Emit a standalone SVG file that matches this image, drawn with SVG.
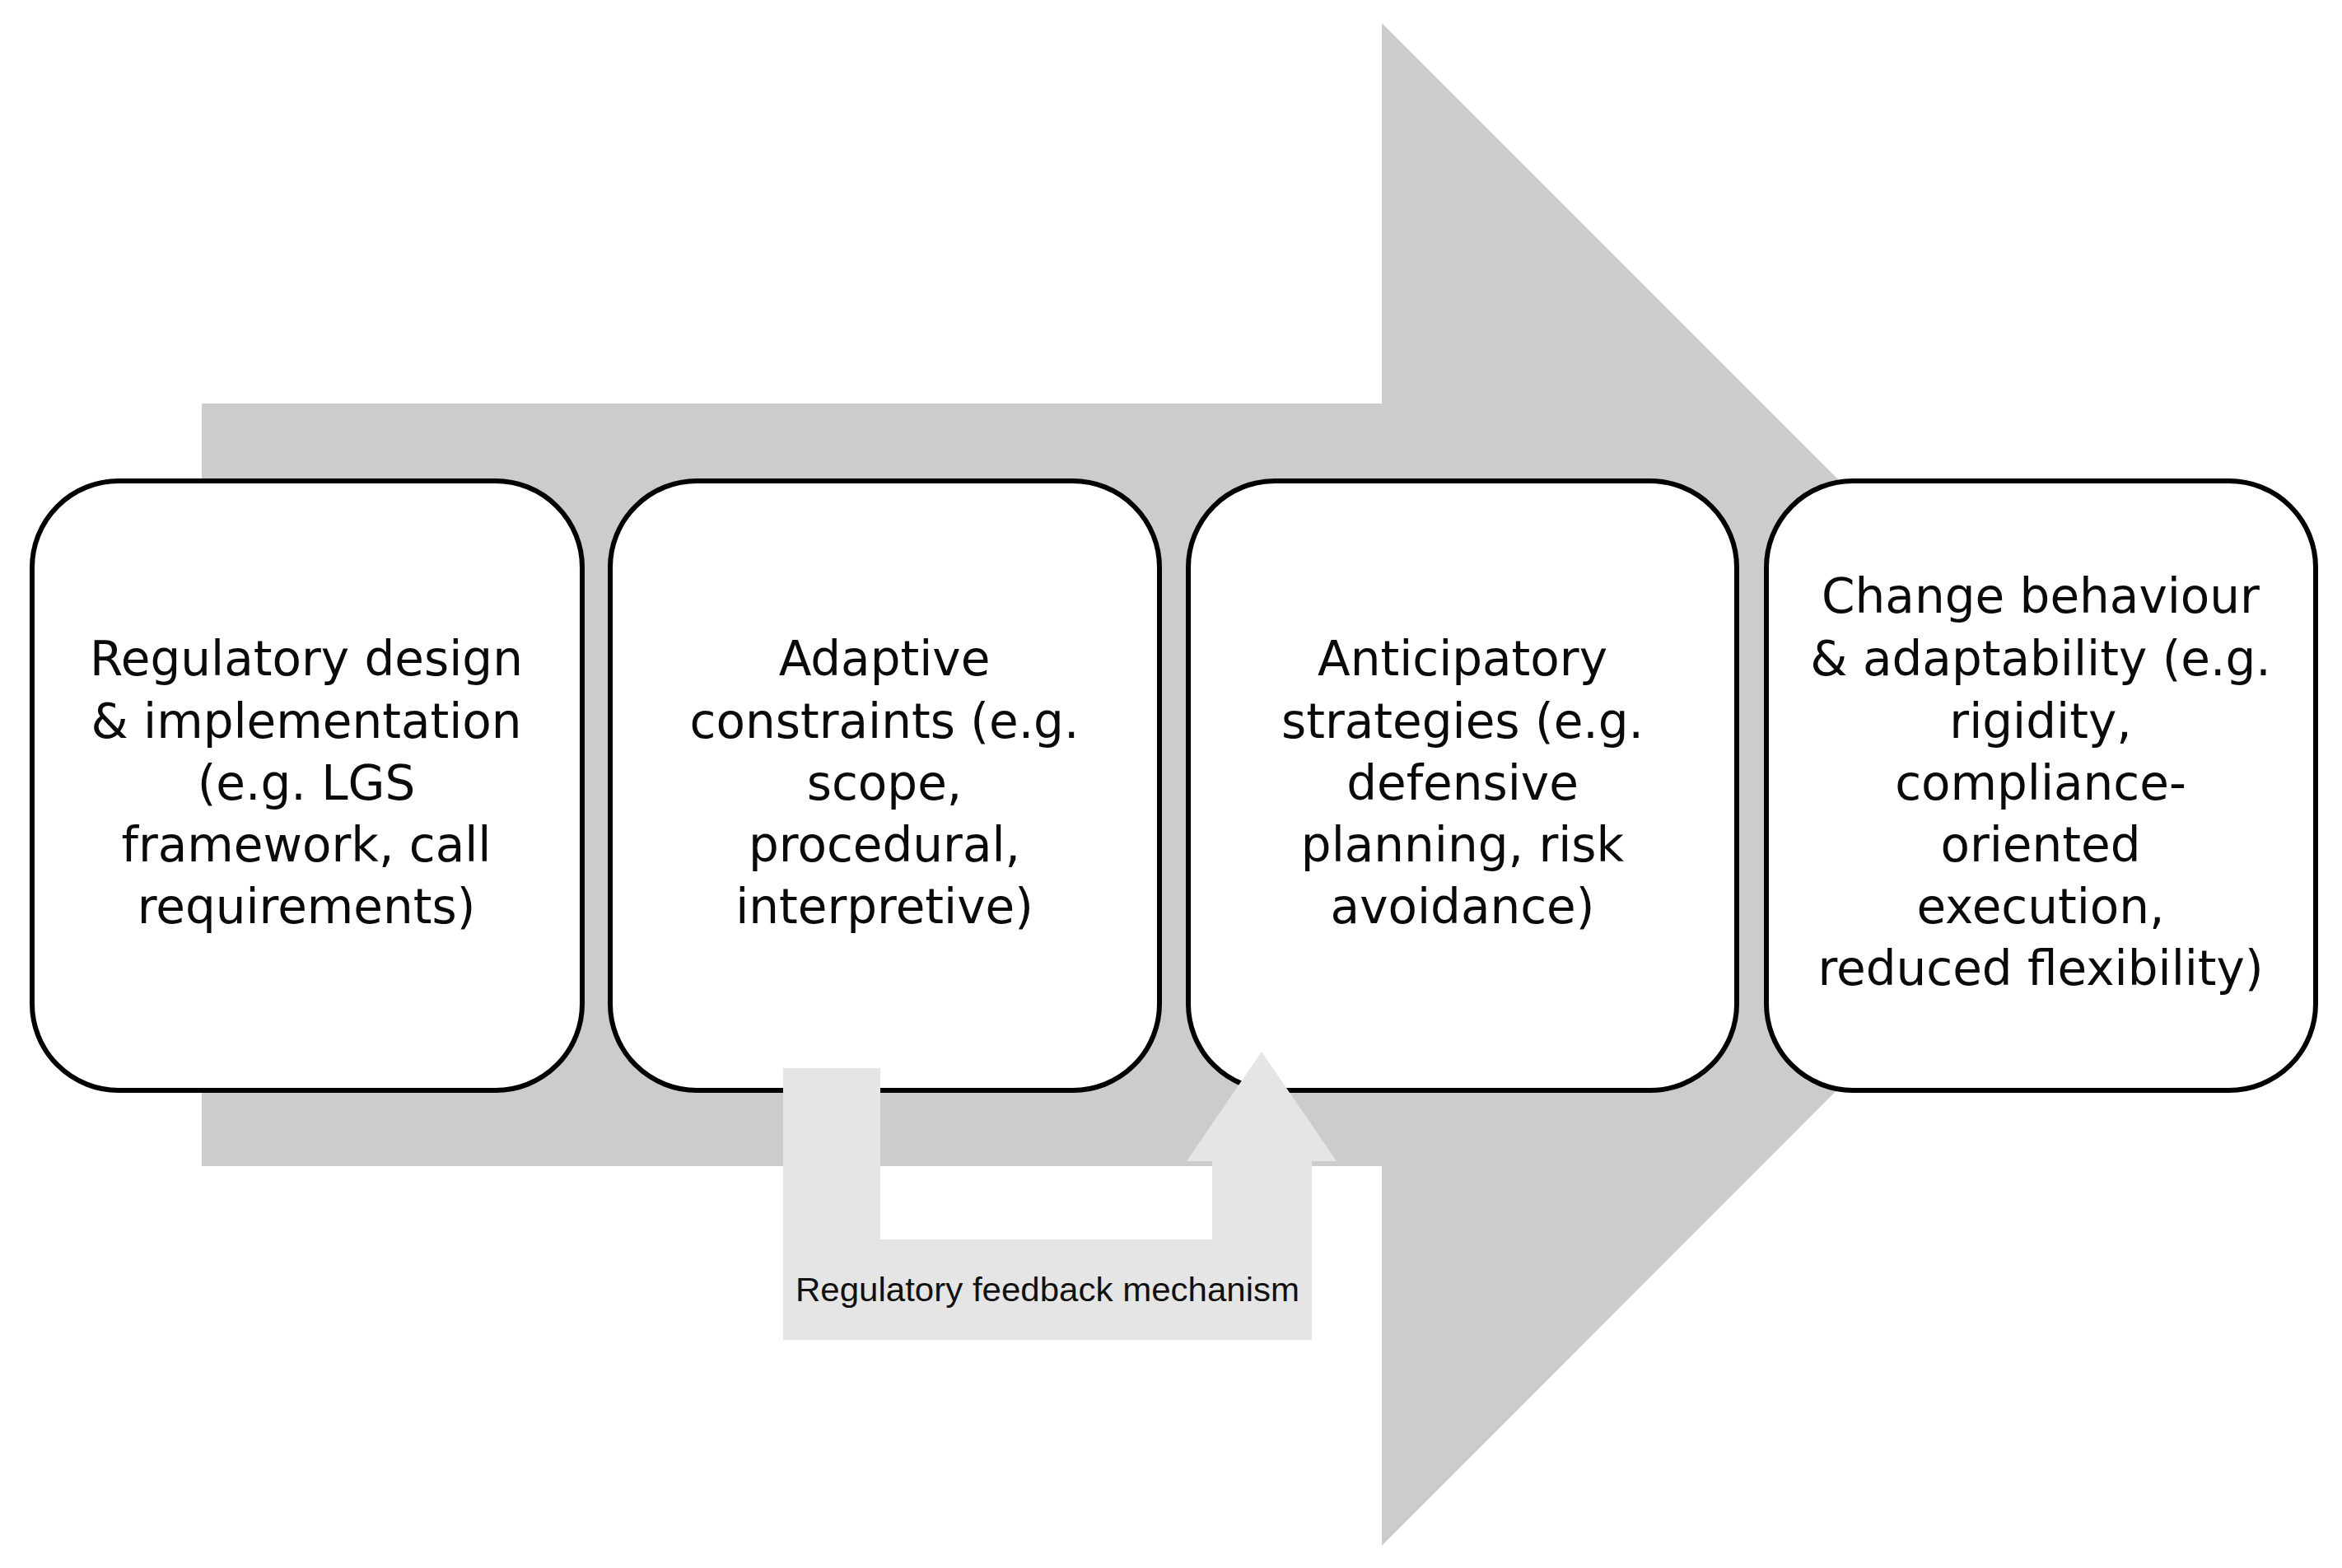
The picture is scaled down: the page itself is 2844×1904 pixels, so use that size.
<svg xmlns="http://www.w3.org/2000/svg" width="2844" height="1904" viewBox="0 0 2844 1904">
<style>
.box{fill:#ffffff;stroke:#000000;stroke-width:6}
.lbl{font-family:"DejaVu Sans",sans-serif;font-size:58px;fill:#0a0a0a;text-anchor:middle}
.fb{font-family:"Liberation Sans",Arial,sans-serif;font-size:41px;fill:#111111;text-anchor:middle}
</style>
<rect x="0" y="0" width="2844" height="1904" fill="#ffffff"/>
<g id="connectors">
<polygon id="main-arrow" points="245,490 1678,490 1678,28 2602,952 1678,1877 1678,1416 245,1416" fill="#cccccc"/>
</g>
<g id="node1">
<rect class="box" x="39" y="584" width="668" height="740" rx="105" ry="105"/>
<text class="lbl"><tspan x="372" y="820">Regulatory design</tspan><tspan x="372" y="896">&amp; implementation</tspan><tspan x="372" y="971">(e.g. LGS</tspan><tspan x="372" y="1046">framework, call</tspan><tspan x="372" y="1121">requirements)</tspan></text>
</g>
<g id="node2">
<rect class="box" x="741" y="584" width="667" height="740" rx="105" ry="105"/>
<text class="lbl"><tspan x="1074" y="820">Adaptive</tspan><tspan x="1074" y="896">constraints (e.g.</tspan><tspan x="1074" y="971">scope,</tspan><tspan x="1074" y="1046">procedural,</tspan><tspan x="1074" y="1121">interpretive)</tspan></text>
</g>
<g id="node3">
<rect class="box" x="1443" y="584" width="666" height="740" rx="105" ry="105"/>
<text class="lbl"><tspan x="1776" y="820">Anticipatory</tspan><tspan x="1776" y="896">strategies (e.g.</tspan><tspan x="1776" y="971">defensive</tspan><tspan x="1776" y="1046">planning, risk</tspan><tspan x="1776" y="1121">avoidance)</tspan></text>
</g>
<g id="node4">
<rect class="box" x="2145" y="584" width="667" height="740" rx="105" ry="105"/>
<text class="lbl"><tspan x="2478" y="744">Change behaviour</tspan><tspan x="2478" y="820">&amp; adaptability (e.g.</tspan><tspan x="2478" y="896">rigidity,</tspan><tspan x="2478" y="971">compliance-</tspan><tspan x="2478" y="1046">oriented</tspan><tspan x="2478" y="1121">execution,</tspan><tspan x="2478" y="1196">reduced flexibility)</tspan></text>
</g>
<g id="feedback">
<polygon points="951,1297 1069,1297 1069,1505 1472,1505 1472,1410 1441,1410 1532,1277 1623,1410 1593,1410 1593,1627 951,1627" fill="#e5e5e5"/>
<text class="fb" x="1272" y="1580" textLength="612" lengthAdjust="spacingAndGlyphs">Regulatory feedback mechanism</text>
</g>
</svg>
